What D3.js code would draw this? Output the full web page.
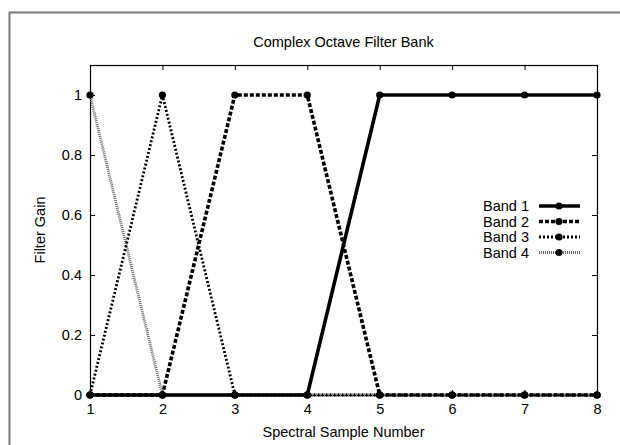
<!DOCTYPE html>
<html>
<head>
<meta charset="utf-8">
<script src="https://cdn.jsdelivr.net/npm/d3@7"></script>
<style>
  html, body { margin: 0; padding: 0; background: #fff; }
  svg { display: block; }
  text { font-family: "Liberation Sans", Arial, Helvetica, sans-serif; font-size: 14.5px; fill: #000; }
</style>
</head>
<body>
<script>
// Sample positions and the gain of each octave band at that sample
const samples = [1, 2, 3, 4, 5, 6, 7, 8];
const band1 = [0, 0, 0, 0, 1, 1, 1, 1];
const band2 = [0, 0, 1, 1, 0, 0, 0, 0];
const band3 = [0, 1, 0, 0, 0, 0, 0, 0];
const band4 = [1, 0, 0, 0, 0, 0, 0, 0];
const seriesNames = ["Band 1", "Band 2", "Band 3", "Band 4"];
const xTicks = [1, 2, 3, 4, 5, 6, 7, 8];
const yTicks = [0, 0.2, 0.4, 0.6, 0.8, 1];

const W = 620, H = 445;
const margin = { left: 90, top: 65, right: 23, bottom: 50 };
const plotW = W - margin.left - margin.right;
const plotH = H - margin.top - margin.bottom;
const fontSize = "14.5px";

const svg = d3.select("body").append("svg").attr("width", W).attr("height", H);

// Page frame
svg.append("rect")
  .attr("x", 9.5).attr("y", 12.5).attr("width", W).attr("height", H)
  .attr("fill", "none").attr("stroke", "#7a7a7a").attr("stroke-width", 2);

const x = d3.scaleLinear().domain([1, 8]).range([margin.left, margin.left + plotW]);
const y = d3.scaleLinear().domain([0, 1.1]).range([margin.top + plotH, margin.top]);

const g = svg.append("g");

// Axes: ticks point inward, mirrored on the opposite side
const tickLen = 5;
const bottomAxis = d3.axisBottom(x).tickValues(xTicks).tickFormat(d3.format("d")).tickSize(-tickLen).tickPadding(9);
const topAxis = d3.axisTop(x).tickValues(xTicks).tickFormat("").tickSize(-tickLen);
const leftAxis = d3.axisLeft(y).tickValues(yTicks).tickFormat(d => d === 0 || d === 1 ? d3.format("d")(d) : d3.format(".1f")(d)).tickSize(-tickLen).tickPadding(8);
const rightAxis = d3.axisRight(y).tickValues(yTicks).tickFormat("").tickSize(-tickLen);

function styleAxis(sel) {
  sel.select(".domain").remove();
  sel.selectAll(".tick line").attr("stroke", "#000").attr("stroke-width", 1);
  sel.selectAll(".tick text").style("font-size", fontSize).attr("fill", "#000")
    .style("font-family", "'Liberation Sans', Arial, sans-serif");
}

g.append("g").attr("transform", `translate(0,${margin.top + plotH})`).call(bottomAxis).call(styleAxis);
g.append("g").attr("transform", `translate(0,${margin.top})`).call(topAxis).call(styleAxis);
g.append("g").attr("transform", `translate(${margin.left},0)`).call(leftAxis).call(styleAxis);
g.append("g").attr("transform", `translate(${margin.left + plotW},0)`).call(rightAxis).call(styleAxis);

// Plot border
svg.append("rect")
  .attr("x", margin.left + 0.5).attr("y", margin.top + 0.5)
  .attr("width", plotW).attr("height", plotH)
  .attr("fill", "none").attr("stroke", "#000").attr("stroke-width", 1.2);

// Titles
svg.append("text").attr("x", margin.left + plotW / 2).attr("y", 47)
  .attr("text-anchor", "middle").text("Complex Octave Filter Bank");
svg.append("text").attr("x", margin.left + plotW / 2).attr("y", 437)
  .attr("text-anchor", "middle").text("Spectral Sample Number");
svg.append("text").attr("transform", `translate(45,${margin.top + plotH / 2}) rotate(-90)`)
  .attr("text-anchor", "middle").text("Filter Gain");

// Series styles
const styles = [
  { color: "#000", width: 3.6, dash: null },
  { color: "#000", width: 3.6, dash: "4,2" },
  { color: "#000", width: 2.8, dash: "2,2" },
  { color: "#666", width: 2.8, dash: "1,1" }
];
const allBands = [band1, band2, band3, band4];

const line = d3.line().x(d => x(d[0])).y(d => y(d[1]));

// Draw band 4 first so band 1 sits on top
for (let i = allBands.length - 1; i >= 0; i--) {
  const pts = samples.map((s, k) => [s, allBands[i][k]]);
  const st = styles[i];
  svg.append("path").datum(pts)
    .attr("d", line).attr("fill", "none")
    .attr("stroke", st.color).attr("stroke-width", st.width)
    .attr("stroke-dasharray", st.dash)
    .attr("stroke-linejoin", "miter");
  svg.selectAll(null).data(pts).enter().append("circle")
    .attr("cx", d => x(d[0])).attr("cy", d => y(d[1])).attr("r", 3.6)
    .attr("fill", "#000");
}

// Legend
const legX = 529, legY0 = 206, legDy = 15.5;
seriesNames.forEach((name, i) => {
  const ly = legY0 + i * legDy;
  const st = styles[i];
  svg.append("text").attr("x", legX).attr("y", ly + 5).attr("text-anchor", "end").text(name);
  svg.append("line").attr("x1", 539).attr("x2", 580).attr("y1", ly).attr("y2", ly)
    .attr("stroke", st.color).attr("stroke-width", st.width).attr("stroke-dasharray", st.dash);
  svg.append("circle").attr("cx", 559).attr("cy", ly).attr("r", 3.6).attr("fill", "#000");
});
</script>
</body>
</html>
